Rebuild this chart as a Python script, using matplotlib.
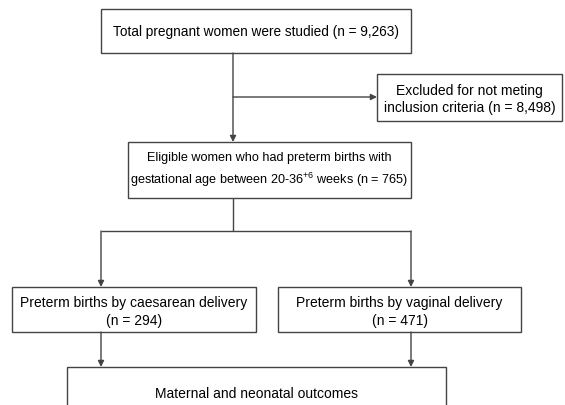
import matplotlib
matplotlib.use('Agg')
import matplotlib.pyplot as plt
from matplotlib.patches import Rectangle

plt.rcParams['font.family'] = ['Liberation Sans', 'DejaVu Sans']
plt.rcParams['mathtext.default'] = 'regular'

# box texts
total_text = 'Total pregnant women were studied (n = 9,263)'
excluded_text = 'Excluded for not meting\ninclusion criteria (n = 8,498)'
eligible_text = 'Eligible women who had preterm births with\ngestational age between 20-36$^{+6}$ weeks (n = 765)'
caesarean_text = 'Preterm births by caesarean delivery\n(n = 294)'
vaginal_text = 'Preterm births by vaginal delivery\n(n = 471)'
outcome_text = 'Maternal and neonatal outcomes'

W, H = 565, 406
fig = plt.figure(figsize=(W / 100, H / 100), dpi=100)
ax = fig.add_axes([0, 0, 1, 1])
ax.set_xlim(0, W)
ax.set_ylim(H, 0)
ax.axis('off')

lc = '#444444'
lw = 1.0


def box(x0, y0, x1, y1, text, ty=None, fs=10.0, ls=1.4):
    ax.add_patch(Rectangle((x0, y0), x1 - x0, y1 - y0, fill=False,
                           edgecolor=lc, linewidth=lw))
    if ty is None:
        ty = (y0 + y1) / 2
    ax.text((x0 + x1) / 2, ty, text, ha='center', va='center',
            multialignment='center', fontsize=fs, color='black',
            linespacing=ls)


def arrow(x0, y0, x1, y1):
    ax.annotate('', xy=(x1, y1), xytext=(x0, y0),
                arrowprops=dict(arrowstyle='-|>', color=lc, lw=lw,
                                mutation_scale=9, shrinkA=0, shrinkB=0))


def line(xs, ys):
    ax.plot(xs, ys, color=lc, linewidth=lw, solid_capstyle='butt')


box(101, 10, 411, 54, total_text, fs=9.8)
box(377, 75, 562, 122, excluded_text, ty=99.5, fs=10.0, ls=1.35)
box(128, 143, 411, 199, eligible_text, ty=170.5, fs=9.1, ls=1.55)
box(12, 288, 256, 333, caesarean_text, ty=312, fs=10.0, ls=1.4)
box(278, 288, 521, 333, vaginal_text, ty=312, fs=10.0, ls=1.4)
box(67, 368, 446, 430, outcome_text, ty=394, fs=10.0)

arrow(233, 54, 233, 143)
arrow(233, 98, 377, 98)
line([233, 233], [199, 232])
line([101, 411], [232, 232])
arrow(101, 232, 101, 288)
arrow(411, 232, 411, 288)
arrow(101, 333, 101, 368)
arrow(411, 333, 411, 368)

fig.savefig('out.png', dpi=100, facecolor='white')
